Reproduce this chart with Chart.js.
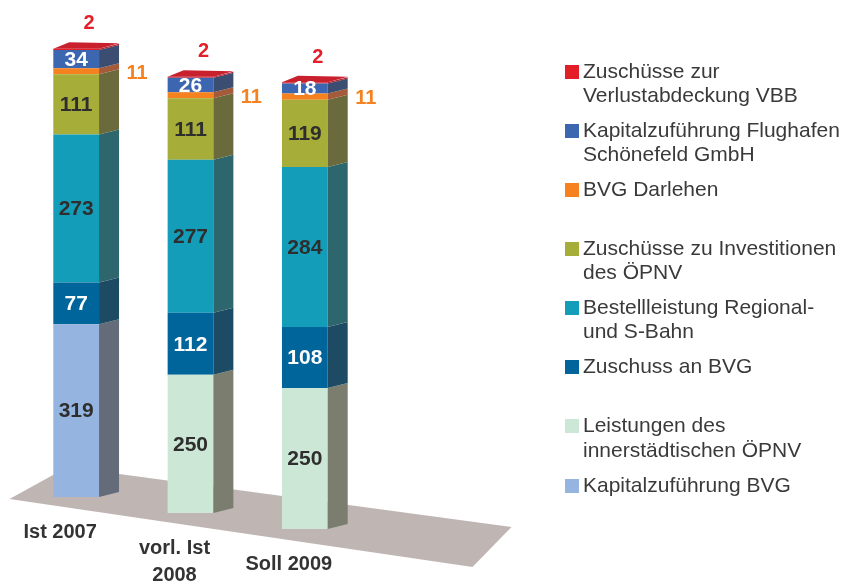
<!DOCTYPE html>
<html>
<head>
<meta charset="utf-8">
<script src="https://cdn.jsdelivr.net/npm/chart.js@4.4.1/dist/chart.umd.min.js"></script>
<style>
  html, body { margin: 0; padding: 0; background: #ffffff; }
  #wrap { position: relative; width: 849px; height: 585px; overflow: hidden; }
  #c { position: absolute; left: 0; top: 0; }
  #legend { position: absolute; left: 565px; top: 58.5px; font-family: "Liberation Sans", Arial, sans-serif;
            font-size: 21px; line-height: 24.3px; color: #3a3a3a; white-space: nowrap; }
  .item { position: relative; padding-left: 18px; margin-bottom: 10.5px; }
  .sw { position: absolute; left: 0; top: 6px; width: 14px; height: 14px; }
  .gap { height: 24.5px; }
</style>
</head>
<body>
<div id="wrap">
  <canvas id="c" width="849" height="585"></canvas>
  <div id="legend"></div>
</div>
<script>
// ---------- data ----------
const categories = [["Ist 2007"], ["vorl. Ist", "2008"], ["Soll 2009"]];

const kapitalzufuehrungBVG   = [319, null, null];
const leistungenInnerstadt   = [null, 250, 250];
const zuschussAnBVG          = [77, 112, 108];
const bestellleistung        = [273, 277, 284];
const zuschuesseInvestition  = [111, 111, 119];
const bvgDarlehen            = [11, 11, 11];
const kapitalFlughafen       = [34, 26, 18];
const verlustabdeckungVBB    = [2, 2, 2];

const seriesLabels = [
  ["Kapitalzuführung BVG"],
  ["Leistungen des", "innerstädtischen ÖPNV"],
  ["Zuschuss an BVG"],
  ["Bestellleistung Regional-", "und S-Bahn"],
  ["Zuschüsse zu Investitionen", "des ÖPNV"],
  ["BVG Darlehen"],
  ["Kapitalzuführung Flughafen", "Schönefeld GmbH"],
  ["Zuschüsse zur", "Verlustabdeckung VBB"]
];
const seriesData = [kapitalzufuehrungBVG, leistungenInnerstadt, zuschussAnBVG, bestellleistung,
                    zuschuesseInvestition, bvgDarlehen, kapitalFlughafen, verlustabdeckungVBB];

// ---------- styles ----------
const frontColors = ['#95b4df', '#cde7d6', '#00659a', '#139db9', '#a7ad39', '#f5821f', '#3d66b0', '#e31e26'];
const sideColors  = ['#646b79', '#7b7d6e', '#1e4b64', '#2d666d', '#6b6a3d', '#a35b3a', '#3b4e72', '#b11d2a'];
const topColors   = ['#95b4df', '#cde7d6', '#00659a', '#139db9', '#a7ad39', '#f5821f', '#3d66b0', '#c9202d'];
const labelModes  = ['inside', 'inside', 'inside', 'inside', 'inside', 'right', 'inside', 'above'];
const labelColors = ['#2e2e2e', '#2e2e2e', '#ffffff', '#2e2e2e', '#2e2e2e', '#f5821f', '#ffffff', '#e3202a'];
const legendGroups = [2, 2, 1, 1, 1, 0, 0, 0];

const persp = { shift: 0.14, scale: 0.000175, dx: 20, dy: -5 };
const FONT = '"Liberation Sans", Arial, sans-serif';

const datasets = seriesData.map((d, i) => ({
  label: seriesLabels[i].join(' '),
  data: d,
  backgroundColor: frontColors[i],
  borderWidth: 0,
  clip: false,
  stack: 's'
}));

function isDrawn(chart, di, i) {
  const v = chart.data.datasets[di].data[i];
  return v !== null && v !== undefined;
}

const pseudo3d = {
  id: 'pseudo3d',
  afterDatasetsUpdate(chart) {
    const ys = chart.scales.y, xs = chart.scales.x;
    const base0 = ys.getPixelForValue(0);
    const xRef = xs.getPixelForValue(1);
    chart.data.datasets.forEach((ds, di) => {
      chart.getDatasetMeta(di).data.forEach(el => {
        const s = persp.shift * (el.x - xRef);
        const k = 1 + persp.scale * (el.x - xRef);
        el.y = base0 + s - (base0 - el.y) * k;
        el.base = base0 + s - (base0 - el.base) * k;
        el.height = el.base - el.y;
      });
    });
  },
  beforeDatasetsDraw(chart) {
    const ctx = chart.ctx;
    const base0 = chart.scales.y.getPixelForValue(0);
    const xRef = chart.scales.x.getPixelForValue(1);
    const pts = [[-181, -14], [-123, -46], [321, 14], [282, 54]];
    ctx.save();
    ctx.fillStyle = '#bfb6b4';
    ctx.beginPath();
    pts.forEach((p, j) => {
      const x = xRef + p[0], y = base0 + p[1];
      if (j === 0) ctx.moveTo(x, y); else ctx.lineTo(x, y);
    });
    ctx.closePath();
    ctx.fill();
    ctx.restore();
  },
  afterDatasetsDraw(chart) {
    const ctx = chart.ctx;
    const n = chart.data.labels.length;
    const dx = persp.dx, dy = persp.dy;
    ctx.save();
    // side faces
    chart.data.datasets.forEach((ds, di) => {
      chart.getDatasetMeta(di).data.forEach((el, i) => {
        if (!isDrawn(chart, di, i)) return;
        const r = el.x + el.width / 2;
        ctx.fillStyle = sideColors[di];
        ctx.beginPath();
        ctx.moveTo(r, el.y);
        ctx.lineTo(r + dx, el.y + dy);
        ctx.lineTo(r + dx, el.base + dy);
        ctx.lineTo(r, el.base);
        ctx.closePath();
        ctx.fill();
      });
    });
    // top faces
    for (let i = 0; i < n; i++) {
      let top = -1;
      chart.data.datasets.forEach((ds, di) => { if (isDrawn(chart, di, i)) top = di; });
      if (top < 0) continue;
      const el = chart.getDatasetMeta(top).data[i];
      const l = el.x - el.width / 2, r = el.x + el.width / 2;
      ctx.fillStyle = topColors[top];
      ctx.beginPath();
      ctx.moveTo(l, el.y);
      ctx.lineTo(l + dx * 0.8, el.y + dy - 1.5);
      ctx.lineTo(r + dx, el.y + dy - 0.5);
      ctx.lineTo(r, el.y);
      ctx.closePath();
      ctx.fill();
    }
    // value labels
    ctx.textAlign = 'center';
    ctx.textBaseline = 'middle';
    chart.data.datasets.forEach((ds, di) => {
      chart.getDatasetMeta(di).data.forEach((el, i) => {
        if (!isDrawn(chart, di, i)) return;
        const v = ds.data[i];
        const mid = (el.y + el.base) / 2;
        ctx.fillStyle = labelColors[di];
        if (labelModes[di] === 'inside') {
          ctx.font = 'bold 21px ' + FONT;
          ctx.fillText(String(v), el.x, mid + 1);
        } else if (labelModes[di] === 'right') {
          ctx.font = 'bold 20px ' + FONT;
          ctx.fillText(String(v), el.x + el.width / 2 + dx + 18, mid + 2);
        } else {
          ctx.font = 'bold 20px ' + FONT;
          ctx.fillText(String(v), el.x + 13, el.y - 25);
        }
      });
    });
    // category labels
    const xs = chart.scales.x;
    const base0 = chart.scales.y.getPixelForValue(0);
    const xRef = xs.getPixelForValue(1);
    ctx.font = 'bold 20px ' + FONT;
    ctx.fillStyle = '#333333';
    chart.data.labels.forEach((lab, i) => {
      const x = xs.getPixelForValue(i);
      const bottom = base0 + persp.shift * (x - xRef);
      const lines = Array.isArray(lab) ? lab : [lab];
      lines.forEach((t, j) => ctx.fillText(t, x - 16, bottom + 35 + j * 27));
    });
    ctx.restore();
  }
};

const chart = new Chart(document.getElementById('c'), {
  type: 'bar',
  data: { labels: categories, datasets: datasets },
  options: {
    responsive: false,
    animation: false,
    events: [],
    datasets: { bar: { barPercentage: 0.4, categoryPercentage: 1.0 } },
    layout: { padding: { left: 19, right: 487, top: 43, bottom: 72 } },
    scales: {
      x: { display: false, stacked: true },
      y: { display: false, stacked: true, min: 0, max: 850 }
    },
    plugins: { legend: { display: false }, tooltip: { enabled: false } }
  },
  plugins: [pseudo3d]
});

// HTML legend built from the chart's datasets (top series first)
(function buildLegend() {
  const box = document.getElementById('legend');
  let prev = null;
  for (let di = chart.data.datasets.length - 1; di >= 0; di--) {
    if (prev !== null && legendGroups[di] !== prev) {
      const g = document.createElement('div'); g.className = 'gap'; box.appendChild(g);
    }
    prev = legendGroups[di];
    const item = document.createElement('div'); item.className = 'item';
    const sw = document.createElement('span'); sw.className = 'sw';
    sw.style.background = chart.data.datasets[di].backgroundColor;
    item.appendChild(sw);
    seriesLabels[di].forEach(t => {
      const line = document.createElement('div'); line.textContent = t; item.appendChild(line);
    });
    box.appendChild(item);
  }
})();
</script>
</body>
</html>
